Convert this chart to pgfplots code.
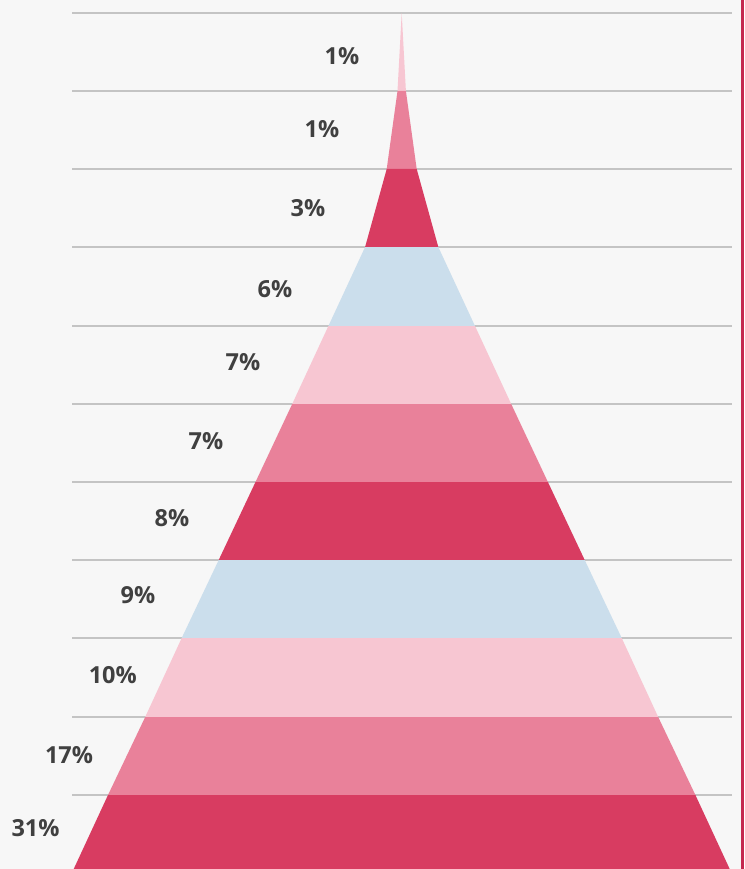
\documentclass[border=0pt]{standalone}
\usepackage{fontspec}
\setmainfont{Open Sans}
\usepackage{pgfplots}
\pgfplotsset{compat=1.18}
\definecolor{bg}{HTML}{F7F7F7}
\definecolor{gridc}{HTML}{C4C4C4}
\definecolor{lpink}{HTML}{F7C6D2}
\definecolor{mpink}{HTML}{E9819A}
\definecolor{cred}{HTML}{D83C61}
\definecolor{lblue}{HTML}{CBDEEC}
\definecolor{edge}{HTML}{C4284F}
\definecolor{lab}{HTML}{404040}
\tikzset{lbl/.style={font=\fontsize{23.5}{27}\selectfont\bfseries, text=lab, anchor=center, inner sep=0pt}}
\begin{document}
\begin{tikzpicture}
\begin{axis}[
  width=744pt, height=869pt, scale only axis,
  xmin=0, xmax=744, ymin=0, ymax=869, y dir=reverse,
  axis lines=none, ticks=none, clip=false,
  axis background/.style={fill=bg},
]
% grid lines
\pgfplotsinvokeforeach{13,91,169,247,326,404,482,560,638,717,795}{
  \addplot[color=gridc, line width=1.4pt] coordinates {(72,#1) (732,#1)};
}
% bands: (left-top) (right-top) (right-bottom) (left-bottom), centre 401.7
\addplot[fill=lpink, draw=none] coordinates {(401.7,13) (401.7,13) (405.9,91) (397.5,91)};
\addplot[fill=mpink, draw=none] coordinates {(397.5,91) (405.9,91) (416.7,169) (386.7,169)};
\addplot[fill=cred, draw=none] coordinates {(386.7,169) (416.7,169) (438.3,247) (365.1,247)};
\addplot[fill=lblue, draw=none] coordinates {(365.1,247) (438.3,247) (475.0,326) (328.4,326)};
\addplot[fill=lpink, draw=none] coordinates {(328.4,326) (475.0,326) (511.2,404) (292.2,404)};
\addplot[fill=mpink, draw=none] coordinates {(292.2,404) (511.2,404) (547.9,482) (255.5,482)};
\addplot[fill=cred, draw=none] coordinates {(255.5,482) (547.9,482) (584.7,560) (218.7,560)};
\addplot[fill=lblue, draw=none] coordinates {(218.7,560) (584.7,560) (621.7,638) (181.7,638)};
\addplot[fill=lpink, draw=none] coordinates {(181.7,638) (621.7,638) (658.2,717) (145.2,717)};
\addplot[fill=mpink, draw=none] coordinates {(145.2,717) (658.2,717) (695.4,795) (108.0,795)};
\addplot[fill=cred, draw=none] coordinates {(108.0,795) (695.4,795) (729.7,869) (73.7,869)};
% right edge line
\addplot[edge, line width=3pt] coordinates {(742.5,0) (742.5,869)};
% labels
\node[lbl] at (axis cs:342,56) {1\%};
\node[lbl] at (axis cs:322,129) {1\%};
\node[lbl] at (axis cs:308,208) {3\%};
\node[lbl] at (axis cs:275,289) {6\%};
\node[lbl] at (axis cs:243,362) {7\%};
\node[lbl] at (axis cs:206,441) {7\%};
\node[lbl] at (axis cs:172,518) {8\%};
\node[lbl] at (axis cs:138,595) {9\%};
\node[lbl] at (axis cs:112.8,675) {10\%};
\node[lbl] at (axis cs:69,755) {17\%};
\node[lbl] at (axis cs:35.5,828) {31\%};
\end{axis}
\pgfresetboundingbox
\path (current axis.south west) rectangle (current axis.north east);
\end{tikzpicture}
\end{document}
